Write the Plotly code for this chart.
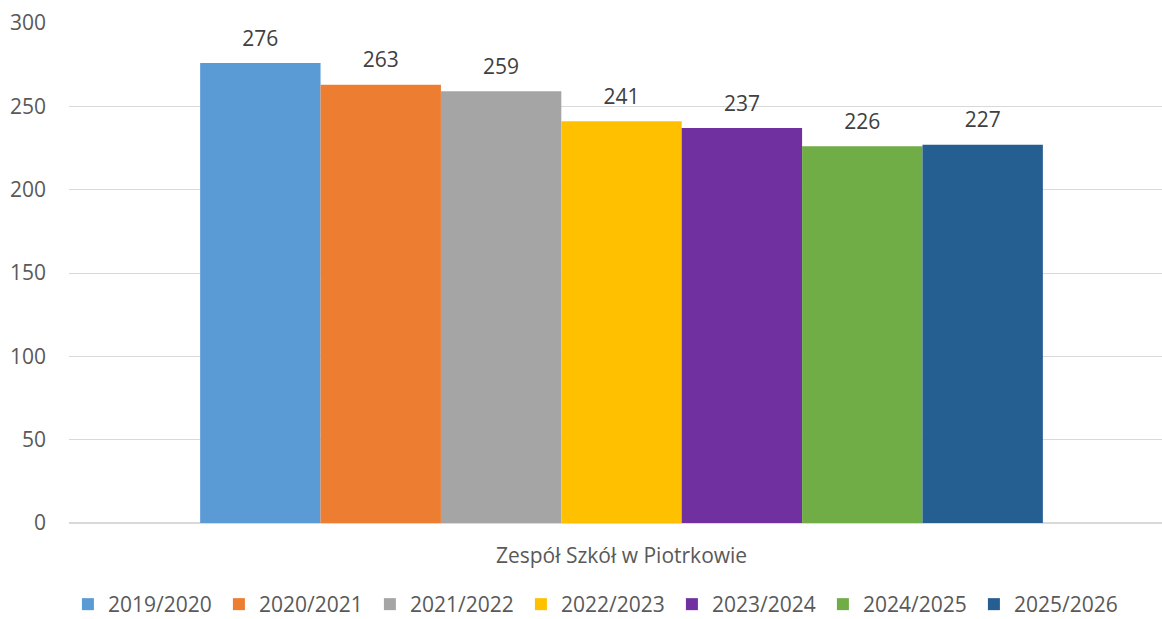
import plotly.graph_objects as go

category = ["Zespół Szkół w Piotrkowie"]
years = ["2019/2020", "2020/2021", "2021/2022", "2022/2023", "2023/2024", "2024/2025", "2025/2026"]
values = [276, 263, 259, 241, 237, 226, 227]
colors = ["#5B9BD5", "#ED7D31", "#A5A5A5", "#FFC000", "#7030A0", "#70AD47", "#255E91"]

FONT = "Open Sans"

fig = go.Figure()
for i, (y, v, c) in enumerate(zip(years, values, colors)):
    fig.add_trace(go.Bar(
        x=category, y=[v], name=y, marker=dict(color=c, line=dict(width=0)),
        offsetgroup=str(i),
    ))
for i, (y, v) in enumerate(zip(years, values)):
    fig.add_trace(go.Scatter(
        x=category, y=[v], mode="markers+text", text=[str(v)],
        textposition="top center", offsetgroup=str(i), showlegend=False,
        marker=dict(size=18, opacity=0), cliponaxis=False, hoverinfo="skip",
        textfont=dict(size=21, color="#404040", family=FONT),
    ))

fig.update_layout(
    width=1162, height=619,
    margin=dict(l=69, r=0, t=23, b=96, autoexpand=False),
    paper_bgcolor="white", plot_bgcolor="white",
    barmode="group", bargap=0.229, bargroupgap=0,
    scattermode="group", scattergap=0.229,
    font=dict(family=FONT, color="#595959", size=21),
    showlegend=True,
    legend=dict(orientation="h", x=-0.001, xanchor="left", y=-0.163, yanchor="middle",
                font=dict(size=21, color="#595959", family=FONT),
                entrywidth=106, entrywidthmode="pixels", itemwidth=30,
                tracegroupgap=0),
)
fig.update_yaxes(range=[0, 300], dtick=50, showgrid=True, gridcolor="#D9D9D9", gridwidth=1,
                 zeroline=True, zerolinecolor="#D9D9D9", zerolinewidth=1.5,
                 showline=False, ticks="", ticklabelstandoff=22, automargin=False,
                 tickfont=dict(size=21, color="#595959"))
fig.update_xaxes(range=[-0.5055, 0.4945], showline=False, ticks="", ticklabelstandoff=18,
                 automargin=False, tickfont=dict(size=21, color="#595959"))

fig.write_html("out.html", post_script="document.body.style.margin='0';",
               config={"displayModeBar": False})
